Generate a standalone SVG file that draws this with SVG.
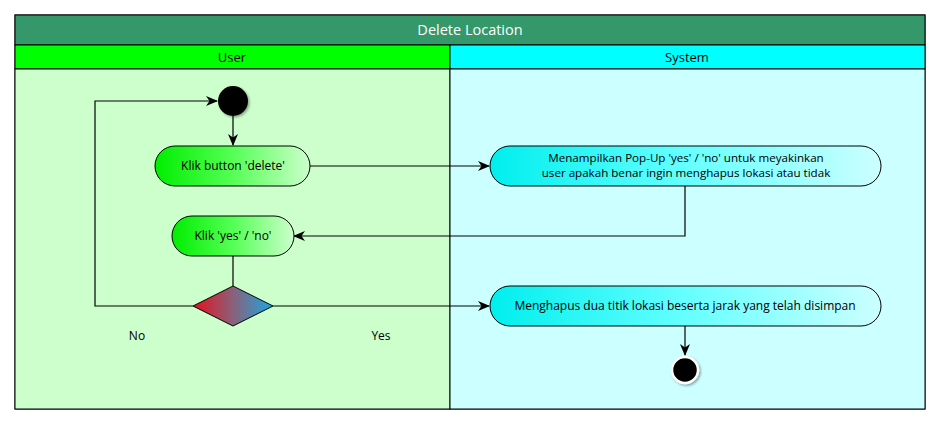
<svg xmlns="http://www.w3.org/2000/svg" width="941" height="425" viewBox="0 0 941 425">
<style>
.lbl{font-family:"Open Sans","Liberation Sans",sans-serif;font-size:12px;fill:#000;text-anchor:middle}
.sm{font-size:11.6px}
.hdr{font-family:"Open Sans","Liberation Sans",sans-serif;font-size:13px;fill:#000;text-anchor:middle}
.ttl{font-family:"Open Sans","Liberation Sans",sans-serif;font-size:14.5px;fill:#fff;text-anchor:middle}
.edge{fill:none;stroke:#000;stroke-width:1.2}
.box{stroke:#000;stroke-width:1}
</style>
<defs>
<linearGradient id="gU" x1="0" y1="0" x2="1" y2="0"><stop offset="0" stop-color="#00ee00"/><stop offset="0.5" stop-color="#55ff55"/><stop offset="1" stop-color="#ccffcc"/></linearGradient>
<linearGradient id="gS" x1="0" y1="0" x2="1" y2="0"><stop offset="0" stop-color="#00eeee"/><stop offset="0.5" stop-color="#66ffff"/><stop offset="1" stop-color="#ccffff"/></linearGradient>
<linearGradient id="gD" x1="0" y1="0" x2="1" y2="0"><stop offset="0" stop-color="#e8101c"/><stop offset="0.5" stop-color="#8a607a"/><stop offset="1" stop-color="#1aa8e0"/></linearGradient>
<marker id="arr" viewBox="0 0 12 10" refX="11" refY="5" markerWidth="12" markerHeight="10" markerUnits="userSpaceOnUse" orient="auto"><path d="M0,0 L12,5 L0,10 L3.5,5 z" fill="#000"/></marker>
<filter id="sh" x="-50%" y="-50%" width="200%" height="200%"><feDropShadow dx="1.5" dy="1.5" stdDeviation="1.2" flood-color="#000" flood-opacity="0.35"/></filter>
</defs>
<g id="frame">
<rect x="15" y="15" width="910" height="394" fill="#fff" stroke="#000" stroke-width="1"/>
<rect x="15" y="15" width="910" height="30" fill="#34986a" stroke="#000" stroke-width="1"/>
<text class="ttl" x="470" y="35">Delete Location</text>
<rect x="15" y="45" width="435" height="24" fill="#00ff00" stroke="#000" stroke-width="1"/>
<rect x="450" y="45" width="475" height="24" fill="#00ffff" stroke="#000" stroke-width="1"/>
<text class="hdr" x="232" y="62">User</text>
<text class="hdr" x="687" y="62">System</text>
<rect x="15" y="69" width="435" height="340" fill="#ccffcc" stroke="#000" stroke-width="1"/>
<rect x="450" y="69" width="475" height="340" fill="#ccffff" stroke="#000" stroke-width="1"/>
</g>
<g id="connectors">
<path class="edge" d="M233,116 V145" marker-end="url(#arr)"/>
<path class="edge" d="M310,166 H489" marker-end="url(#arr)"/>
<path class="edge" d="M685,186 V236 H294" marker-end="url(#arr)"/>
<path class="edge" d="M233,256 V286"/>
<path class="edge" d="M193,306 H95 V101 H217" marker-end="url(#arr)"/>
<path class="edge" d="M273,306 H489" marker-end="url(#arr)"/>
<path class="edge" d="M685,326 V355" marker-end="url(#arr)"/>
<text class="lbl" x="137" y="340">No</text>
<text class="lbl" x="381" y="340">Yes</text>
</g>
<g id="start"><circle cx="233" cy="101" r="15" fill="#000" filter="url(#sh)"/></g>
<g id="klikDelete">
<rect class="box" x="155" y="146" width="155" height="40" rx="20" fill="url(#gU)"/>
<text class="lbl" x="233" y="170">Klik button 'delete'</text>
</g>
<g id="popup">
<rect class="box" x="490" y="146" width="391" height="40" rx="20" fill="url(#gS)"/>
<text class="lbl sm" x="686" y="162">Menampilkan Pop-Up 'yes' / 'no' untuk meyakinkan</text>
<text class="lbl sm" x="686" y="177">user apakah benar ingin menghapus lokasi atau tidak</text>
</g>
<g id="klikYesNo">
<rect class="box" x="172" y="216" width="122" height="40" rx="20" fill="url(#gU)"/>
<text class="lbl" x="233" y="240">Klik 'yes' / 'no'</text>
</g>
<g id="decision">
<path class="box" d="M233,286 L273,306 L233,326 L193,306 Z" fill="url(#gD)"/>
</g>
<g id="hapus">
<rect class="box" x="490" y="286" width="391" height="40" rx="20" fill="url(#gS)"/>
<text class="lbl" x="685" y="310">Menghapus dua titik lokasi beserta jarak yang telah disimpan</text>
</g>
<g id="end"><circle cx="685" cy="370" r="13" fill="#000" stroke="#fff" stroke-width="2.5" filter="url(#sh)"/></g>
</svg>
